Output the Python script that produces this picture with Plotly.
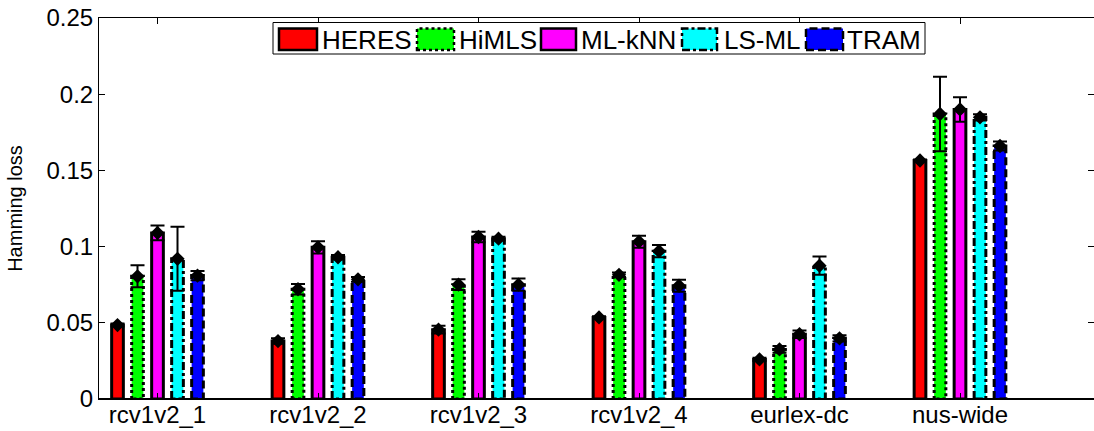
import plotly.graph_objects as go

categories = ["rcv1v2_1", "rcv1v2_2", "rcv1v2_3", "rcv1v2_4", "eurlex-dc", "nus-wide"]
methods = ["HERES", "HiMLS", "ML-kNN", "LS-ML", "TRAM"]

heres = [0.0485, 0.0380, 0.0455, 0.0535, 0.0260, 0.1565]
himls = [0.0805, 0.0720, 0.0750, 0.0815, 0.0325, 0.1870]
mlknn = [0.1090, 0.0995, 0.1063, 0.1032, 0.0425, 0.1900]
lsml = [0.0920, 0.0930, 0.1052, 0.0970, 0.0875, 0.1848]
tram = [0.0810, 0.0785, 0.0750, 0.0743, 0.0398, 0.1660]

heres_err = [0.0010, 0.0018, 0.0025, 0.0008, 0.0010, 0.0006]
himls_err = [0.0072, 0.0035, 0.0035, 0.0015, 0.0022, 0.0245]
mlknn_err = [0.0048, 0.0040, 0.0035, 0.0040, 0.0025, 0.0080]
lsml_err = [0.0210, 0.0015, 0.0012, 0.0040, 0.0060, 0.0020]
tram_err = [0.0030, 0.0015, 0.0040, 0.0040, 0.0020, 0.0030]

y_ticks = [0, 0.05, 0.1, 0.15, 0.2, 0.25]
y_tick_labels = ["0", "0.05", "0.1", "0.15", "0.2", "0.25"]

values = [heres, himls, mlknn, lsml, tram]
errors = [heres_err, himls_err, mlknn_err, lsml_err, tram_err]
colors = ["#FF0000", "#00FF00", "#FF00FF", "#00FFFF", "#0000FF"]
dashes = ["solid", "3px,3px", "solid", "8px,3px,3px,3px", "8px,4px"]

FONT = "Arial, Liberation Sans"

# layout geometry (pixels)
W, H = 1094, 431
ML, MR, MT, MB = 99, 0, 18, 32
PW, PH = W - ML - MR, H - MT - MB
cat_px = 160.5            # pixels between categories
x0_range = 1 - 58.5 / cat_px
x1_range = x0_range + PW / cat_px
spacing = 20 / cat_px     # offset between bars of a group
bw = 11.7 / cat_px        # bar width

def px_x(px):
    return (px - ML) / PW

def px_y(py):
    return (H - MB - py) / PH

fig = go.Figure()
xs_idx = list(range(1, len(categories) + 1))

for j, (name, vals, errs, col, dsh) in enumerate(zip(methods, values, errors, colors, dashes)):
    off = (j - 2) * spacing
    xc = [i + off for i in xs_idx]
    fig.add_trace(go.Bar(x=xc, y=vals, width=bw, marker=dict(color=col, line=dict(width=0)),
                         name=name, showlegend=False, hoverinfo="skip"))
    # outline
    ox, oy = [], []
    for x, v in zip(xc, vals):
        ox += [x - bw / 2, x - bw / 2, x + bw / 2, x + bw / 2, x - bw / 2, None]
        oy += [0, v, v, 0, 0, None]
    fig.add_trace(go.Scatter(x=ox, y=oy, mode="lines", line=dict(color="black", width=3, dash=dsh),
                             showlegend=False, hoverinfo="skip"))
    # error bars and markers
    fig.add_trace(go.Scatter(x=xc, y=vals, mode="markers",
                             marker=dict(symbol="diamond", size=11, color="black"),
                             error_y=dict(type="data", array=errs, visible=True, color="black",
                                          thickness=2, width=7),
                             showlegend=False, hoverinfo="skip"))

# manual legend
shapes = []
annotations = []
shapes.append(dict(type="line", xref="paper", yref="y", x0=0, x1=1, y0=0, y1=0,
                   line=dict(color="black", width=2), layer="above"))
shapes.append(dict(type="rect", xref="paper", yref="paper", x0=px_x(273), x1=px_x(925),
                   y0=px_y(54), y1=px_y(22.5), line=dict(color="black", width=1),
                   fillcolor="white", layer="above"))
sw_left = [279, 417, 541, 682, 806]
sw_right = [317, 454, 576, 717, 843]
txt_left = [320, 457, 579, 722, 845]
for j in range(5):
    shapes.append(dict(type="rect", xref="paper", yref="paper", x0=px_x(sw_left[j]), x1=px_x(sw_right[j]),
                       y0=px_y(50), y1=px_y(28.5), fillcolor=colors[j],
                       line=dict(color="black", width=2.5, dash=dashes[j]), layer="above"))
    annotations.append(dict(xref="paper", yref="paper", x=px_x(txt_left[j]), y=px_y(39.5),
                            text=methods[j], showarrow=False, xanchor="left", yanchor="middle",
                            font=dict(family=FONT, size=26, color="black")))

fig.update_layout(
    width=W, height=H,
    margin=dict(l=ML, r=MR, t=MT, b=MB, pad=0, autoexpand=False),
    paper_bgcolor="white", plot_bgcolor="white",
    barmode="overlay",
    shapes=shapes, annotations=annotations,
    font=dict(family=FONT, color="black"),
)
fig.update_xaxes(range=[x0_range, x1_range], tickvals=xs_idx, ticktext=categories,
                 ticks="inside", ticklen=6, tickcolor="black", showline=True, linecolor="black",
                 linewidth=1, mirror="ticks", showgrid=False, zeroline=False, automargin=False,
                 ticklabelstandoff=-6,
                 tickfont=dict(size=24, family=FONT))
fig.update_yaxes(range=[0, 0.25], tickvals=y_ticks, ticktext=y_tick_labels,
                 ticks="inside", ticklen=6, tickcolor="black", showline=True, linecolor="black",
                 linewidth=1, mirror="ticks", showgrid=False, zeroline=False, automargin=False,
                 tickfont=dict(size=24, family=FONT),
                 title=dict(text="Hamming loss", font=dict(size=20, family=FONT), standoff=18))

fig.write_html("out.html", config={"displayModeBar": False},
               post_script="document.body.style.margin='0';document.body.style.padding='0';"
                           "document.documentElement.style.overflow='hidden';")
